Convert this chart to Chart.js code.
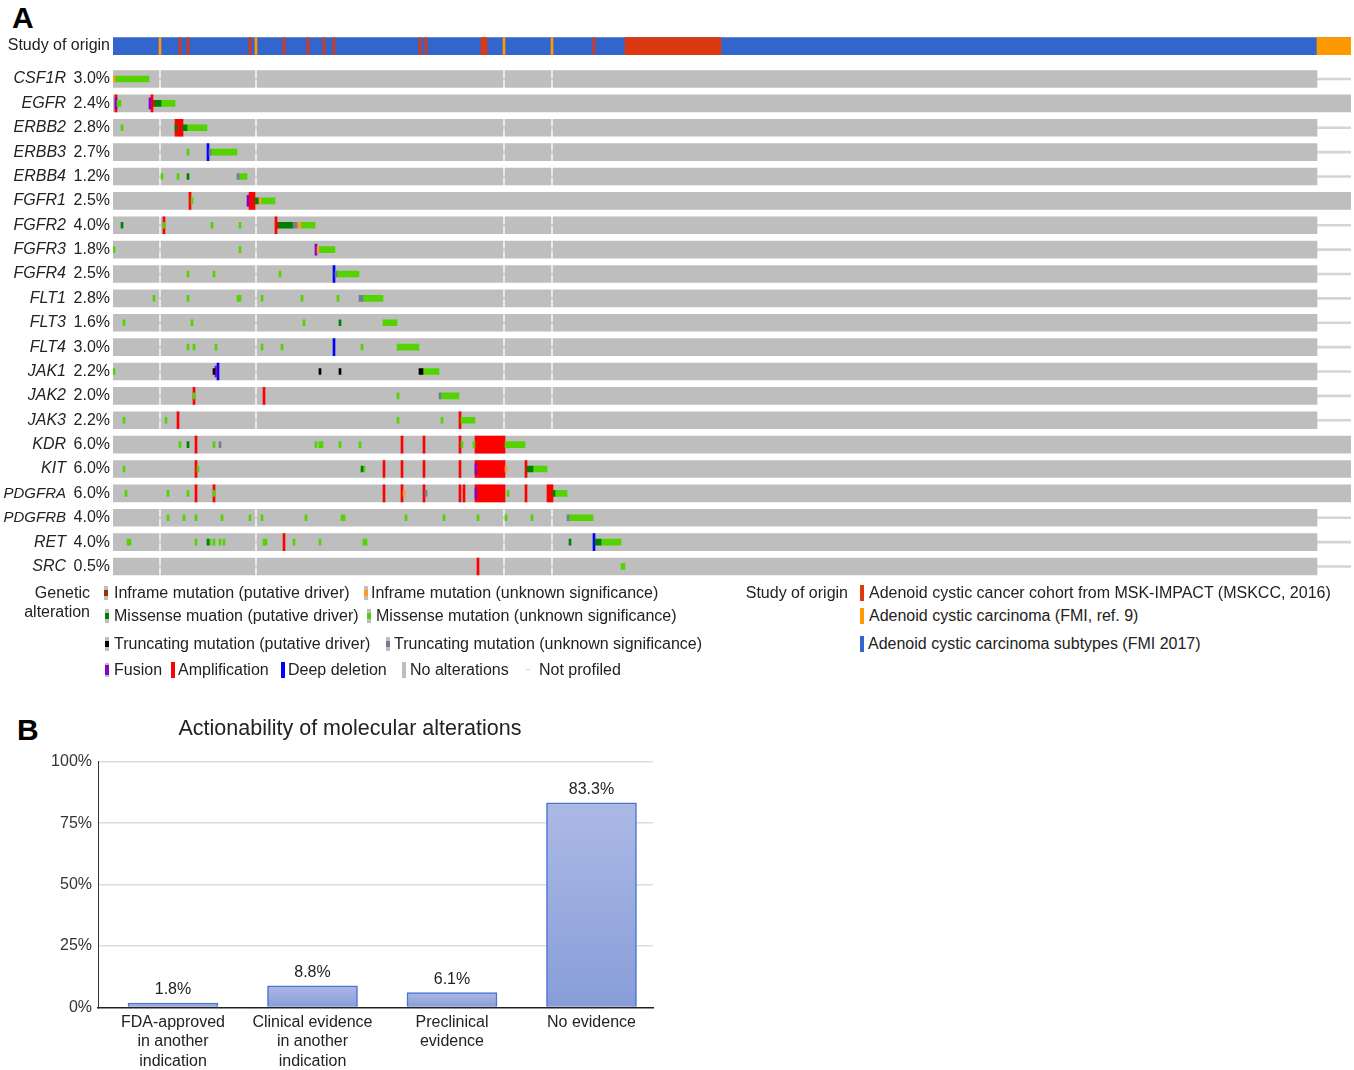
<!DOCTYPE html>
<html>
<head>
<meta charset="utf-8">
<script src="https://cdn.jsdelivr.net/npm/chart.js@4.4.1/dist/chart.umd.min.js"></script>
<style>
  body { margin: 0; width: 1354px; height: 1070px; overflow: hidden; position: relative; background: #fff;
         font-family: "Liberation Sans", Arial, sans-serif; color: #222; }
  canvas { position: absolute; left: 0; }
  .panel { position: absolute; font-weight: bold; font-size: 30px; line-height: 30px; color: #000; }
  .lg { position: absolute; font-size: 16px; line-height: 18px; white-space: nowrap; }
  .gl { position: absolute; width: 4px; height: 14px; background: #bebebe; }
  .gl i { position: absolute; left: 0; top: 4px; width: 4px; height: 6px; }
  .st { position: absolute; width: 4px; height: 16px; }
</style>
</head>
<body>
<div class="panel" style="left:12px; top:3px;">A</div>
<canvas id="onco" width="1354" height="600" style="top:0"></canvas>
<div class="lg" style="left:0; width:110px; text-align:right; top:36px;">Study of origin</div>

<!-- legend, panel A -->
<div class="lg" style="left:0; width:90px; text-align:right; top:584px;">Genetic</div>
<div class="lg" style="left:0; width:90px; text-align:right; top:603px;">alteration</div>

<div class="gl" style="left:104px; top:586px;"><i style="background:#993404"></i></div>
<div class="lg" style="left:114px; top:584px;">Inframe mutation (putative driver)</div>
<div class="gl" style="left:364px; top:586px;"><i style="background:#fe9929"></i></div>
<div class="lg" style="left:371px; top:584px;">Inframe mutation (unknown significance)</div>

<div class="gl" style="left:105px; top:609px;"><i style="background:#008000"></i></div>
<div class="lg" style="left:114px; top:607px;">Missense muation (putative driver)</div>
<div class="gl" style="left:367px; top:609px;"><i style="background:#53d400"></i></div>
<div class="lg" style="left:376px; top:607px;">Missense mutation (unknown significance)</div>

<div class="gl" style="left:105px; top:637px;"><i style="background:#000"></i></div>
<div class="lg" style="left:114px; top:635px;">Truncating mutation (putative driver)</div>
<div class="gl" style="left:386px; top:637px;"><i style="background:#708090"></i></div>
<div class="lg" style="left:394px; top:635px;">Truncating mutation (unknown significance)</div>

<div class="gl" style="left:105px; top:663px;"><i style="background:#8b00c9; top:2px; height:10px"></i></div>
<div class="lg" style="left:114px; top:661px;">Fusion</div>
<div class="gl" style="left:171px; top:662px; height:16px; background:#ff0000"></div>
<div class="lg" style="left:178px; top:661px;">Amplification</div>
<div class="gl" style="left:281px; top:662px; height:16px; background:#0000ff"></div>
<div class="lg" style="left:288px; top:661px;">Deep deletion</div>
<div class="gl" style="left:402px; top:662px; height:16px;"></div>
<div class="lg" style="left:410px; top:661px;">No alterations</div>
<div class="gl" style="left:526px; top:669px; height:1px; background:#d0d0d0"></div>
<div class="lg" style="left:539px; top:661px;">Not profiled</div>

<div class="lg" style="left:700px; width:148px; text-align:right; top:584px;">Study of origin</div>
<div class="st" style="left:860px; top:585px; background:#dc3912"></div>
<div class="lg" style="left:869px; top:584px;">Adenoid cystic cancer cohort from MSK-IMPACT (MSKCC, 2016)</div>
<div class="st" style="left:860px; top:608px; background:#ff9900"></div>
<div class="lg" style="left:869px; top:607px;">Adenoid cystic carcinoma (FMI, ref. 9)</div>
<div class="st" style="left:860px; top:636px; background:#3366cc"></div>
<div class="lg" style="left:868px; top:635px;">Adenoid cystic carcinoma subtypes (FMI 2017)</div>

<div class="panel" style="left:17px; top:715px;">B</div>
<canvas id="action" width="700" height="376" style="top:700px"></canvas>

<script>
// ---------- panel A: oncoprint data (x in sample columns) ----------
const sampleCount = 619;
const panelEnd = 602;            // samples from here on were not profiled for most genes
const genes = ['CSF1R', 'EGFR', 'ERBB2', 'ERBB3', 'ERBB4', 'FGFR1', 'FGFR2', 'FGFR3', 'FGFR4', 'FLT1', 'FLT3',
               'FLT4', 'JAK1', 'JAK2', 'JAK3', 'KDR', 'KIT', 'PDGFRA', 'PDGFRB', 'RET', 'SRC'];
const alteredPct = ['3.0%', '2.4%', '2.8%', '2.7%', '1.2%', '2.5%', '4.0%', '1.8%', '2.5%', '2.8%', '1.6%',
                    '3.0%', '2.2%', '2.0%', '2.2%', '6.0%', '6.0%', '6.0%', '4.0%', '4.0%', '0.5%'];
const fullyProfiled = ['EGFR', 'FGFR1', 'KDR', 'KIT', 'PDGFRA'];
const notProfiledSamples = [23, 71, 195, 219];

// study of origin track (rest of the samples: FMI 2017)
const studyMskcc = [[33, 34], [37, 38], [68, 69], [85, 86], [97, 98], [105, 106], [110, 111], [153, 154],
                    [156, 157], [184, 187], [240, 241], [256, 304]];
const studyFmiRef9 = [[23, 24], [71, 72], [195, 196], [219, 220], [602, 619]];

// alterations: [gene, first sample, end sample]
const inframeDriver = [['EGFR', 20, 21], ['FGFR2', 82, 83]];
const inframeUnknown = [['CSF1R', 0, 1], ['FGFR1', 73, 74], ['FGFR2', 92, 94], ['FGFR3', 102, 103],
                        ['KIT', 196, 197], ['PDGFRA', 145, 146]];
const missenseDriver = [['EGFR', 21, 24], ['ERBB2', 31, 32], ['ERBB2', 35, 37], ['ERBB4', 37, 38], ['FGFR1', 71, 73],
                        ['FGFR2', 4, 5], ['FGFR2', 83, 90], ['FLT3', 113, 114], ['KDR', 37, 38], ['KIT', 124, 125],
                        ['KIT', 207, 210], ['PDGFRA', 220, 221], ['RET', 47, 48], ['RET', 228, 229], ['RET', 241, 244]];
const missenseUnknown = [
  ['CSF1R', 1, 18],
  ['EGFR', 2, 4], ['EGFR', 24, 31],
  ['ERBB2', 4, 5], ['ERBB2', 37, 47],
  ['ERBB3', 37, 38], ['ERBB3', 49, 62],
  ['ERBB4', 24, 25], ['ERBB4', 32, 33], ['ERBB4', 63, 67],
  ['FGFR1', 39, 40], ['FGFR1', 74, 81],
  ['FGFR2', 25, 26], ['FGFR2', 49, 50], ['FGFR2', 63, 64], ['FGFR2', 94, 101],
  ['FGFR3', 0, 1], ['FGFR3', 63, 64], ['FGFR3', 103, 111],
  ['FGFR4', 37, 38], ['FGFR4', 50, 51], ['FGFR4', 83, 84], ['FGFR4', 112, 123],
  ['FLT1', 20, 21], ['FLT1', 37, 38], ['FLT1', 62, 63], ['FLT1', 63, 64], ['FLT1', 74, 75], ['FLT1', 94, 95],
  ['FLT1', 112, 113], ['FLT1', 125, 135],
  ['FLT3', 5, 6], ['FLT3', 39, 40], ['FLT3', 95, 96], ['FLT3', 135, 142],
  ['FLT4', 37, 38], ['FLT4', 40, 41], ['FLT4', 51, 52], ['FLT4', 74, 75], ['FLT4', 84, 85], ['FLT4', 124, 125],
  ['FLT4', 142, 153],
  ['JAK1', 0, 1], ['JAK1', 155, 163],
  ['JAK2', 40, 41], ['JAK2', 142, 143], ['JAK2', 164, 173],
  ['JAK3', 5, 6], ['JAK3', 26, 27], ['JAK3', 142, 143], ['JAK3', 164, 165], ['JAK3', 174, 181],
  ['KDR', 33, 34], ['KDR', 50, 51], ['KDR', 101, 102], ['KDR', 103, 105], ['KDR', 113, 114], ['KDR', 123, 124],
  ['KDR', 174, 175], ['KDR', 180, 181], ['KDR', 196, 206],
  ['KIT', 5, 6], ['KIT', 42, 43], ['KIT', 125, 126], ['KIT', 210, 217],
  ['PDGFRA', 6, 7], ['PDGFRA', 27, 28], ['PDGFRA', 37, 38], ['PDGFRA', 50, 51], ['PDGFRA', 197, 198],
  ['PDGFRA', 221, 227],
  ['PDGFRB', 27, 28], ['PDGFRB', 35, 36], ['PDGFRB', 41, 42], ['PDGFRB', 54, 55], ['PDGFRB', 68, 69],
  ['PDGFRB', 74, 75], ['PDGFRB', 96, 97], ['PDGFRB', 114, 116], ['PDGFRB', 146, 147], ['PDGFRB', 165, 166],
  ['PDGFRB', 182, 183], ['PDGFRB', 196, 197], ['PDGFRB', 209, 210], ['PDGFRB', 228, 240],
  ['RET', 7, 9], ['RET', 41, 42], ['RET', 48, 49], ['RET', 50, 51], ['RET', 53, 54], ['RET', 55, 56], ['RET', 75, 77],
  ['RET', 90, 91], ['RET', 103, 104], ['RET', 125, 127], ['RET', 244, 254],
  ['SRC', 254, 256]
];
const truncDriver = [['JAK1', 50, 51], ['JAK1', 103, 104], ['JAK1', 113, 114], ['JAK1', 153, 155]];
const truncUnknown = [['ERBB3', 48, 49], ['ERBB4', 62, 63], ['FGFR2', 90, 92], ['FGFR4', 111, 112], ['FLT1', 123, 125],
                      ['JAK2', 163, 164], ['KDR', 53, 54], ['PDGFRA', 156, 157], ['PDGFRB', 227, 228]];
const fusion = [['EGFR', 1, 2], ['EGFR', 18, 19], ['FGFR1', 67, 68], ['FGFR3', 101, 102], ['JAK1', 51, 52],
                ['KIT', 181, 182], ['PDGFRA', 181, 182]];
const amplification = [['EGFR', 1, 2], ['EGFR', 19, 20], ['ERBB2', 31, 35], ['FGFR1', 38, 39], ['FGFR1', 68, 71],
  ['FGFR2', 25, 26], ['FGFR2', 81, 82], ['JAK2', 40, 41], ['JAK2', 75, 76], ['JAK3', 32, 33], ['JAK3', 173, 174],
  ['KDR', 41, 42], ['KDR', 144, 145], ['KDR', 155, 156], ['KDR', 173, 174], ['KDR', 181, 196],
  ['KIT', 41, 42], ['KIT', 135, 136], ['KIT', 144, 145], ['KIT', 155, 156], ['KIT', 173, 174], ['KIT', 181, 196],
  ['KIT', 206, 207],
  ['PDGFRA', 41, 42], ['PDGFRA', 50, 51], ['PDGFRA', 135, 136], ['PDGFRA', 144, 145], ['PDGFRA', 155, 156],
  ['PDGFRA', 173, 174], ['PDGFRA', 175, 176], ['PDGFRA', 181, 196], ['PDGFRA', 206, 207], ['PDGFRA', 217, 220],
  ['RET', 85, 86], ['SRC', 182, 183]];
const deepDeletion = [['ERBB3', 47, 48], ['FGFR4', 110, 111], ['FLT4', 110, 111], ['JAK1', 52, 53], ['RET', 240, 241]];

// ---------- panel B data ----------
const actionCategories = [['FDA-approved', 'in another', 'indication'], ['Clinical evidence', 'in another', 'indication'],
                          ['Preclinical', 'evidence'], ['No evidence']];
const actionValues = [1.8, 8.8, 6.1, 83.3];
const actionTicks = [0, 25, 50, 75, 100];

const FONT = '"Liberation Sans", Arial, sans-serif';
Chart.defaults.font.family = FONT;

// ---------- build oncoprint ----------
const studyRow = -1.35;
const geneTicks = genes.map((g, i) => i);

function profiledSegments(gene) {
  if (fullyProfiled.includes(gene)) return [[0, sampleCount]];
  const segs = [];
  let s = 0;
  notProfiledSamples.forEach(n => { segs.push([s, n]); s = n + 1; });
  segs.push([s, panelEnd]);
  return segs;
}

function marks(list, color, thickness) {
  return {
    data: list.map(([g, s, e]) => ({ x: [s, e], y: genes.indexOf(g) })),
    backgroundColor: color,
    barThickness: thickness
  };
}

const grayData = [];
genes.forEach((g, i) => profiledSegments(g).forEach(([s, e]) => grayData.push({ x: [s, e], y: i })));
const npData = genes.filter(g => !fullyProfiled.includes(g)).map(g => ({ x: [0, sampleCount], y: genes.indexOf(g) }));

// first dataset is drawn on top
const oncoSets = [
  marks(truncDriver, '#000000', 6),
  marks(truncUnknown, '#708090', 6),
  marks(inframeDriver, '#993404', 6),
  marks(inframeUnknown, '#fe9929', 6),
  marks(missenseDriver, '#008000', 6),
  marks(missenseUnknown, '#53d400', 6),
  marks(fusion, '#8b00c9', 11),
  marks(deepDeletion, '#0000ff', 17),
  marks(amplification, '#ff0000', 17),
  { data: grayData, backgroundColor: '#bebebe', barThickness: 17 },
  { data: npData, backgroundColor: '#d4d4d4', barThickness: 2 },
  { data: studyMskcc.map(([s, e]) => ({ x: [s, e], y: studyRow })), backgroundColor: '#dc3912', barThickness: 17 },
  { data: studyFmiRef9.map(([s, e]) => ({ x: [s, e], y: studyRow })), backgroundColor: '#ff9900', barThickness: 17 },
  { data: [{ x: [0, sampleCount], y: studyRow }], backgroundColor: '#3366cc', barThickness: 17 }
];
oncoSets.forEach(d => { d.grouped = false; d.borderWidth = 0; });

function rowAxis(extra) {
  return Object.assign({
    type: 'linear', reverse: true, min: -2.2, max: 20.6, position: 'left', offset: false,
    grid: { display: false, drawTicks: false }, border: { display: false },
    afterBuildTicks: s => { s.ticks = geneTicks.map(v => ({ value: v })); }
  }, extra);
}

new Chart(document.getElementById('onco'), {
  type: 'bar',
  data: { datasets: oncoSets },
  options: {
    indexAxis: 'y',
    responsive: false,
    animation: false,
    events: [],
    layout: { padding: { top: 25.4, bottom: 18.85, left: 0, right: 3 } },
    plugins: { legend: { display: false }, tooltip: { enabled: false } },
    scales: {
      x: { type: 'linear', min: 0, max: sampleCount, display: false, offset: false },
      y: rowAxis({
        weight: 0,
        afterFit: s => { s.width = 46; },
        ticks: { autoSkip: false, padding: 3, color: '#222', font: { size: 16 },
                 callback: v => alteredPct[v] }
      }),
      yg: rowAxis({
        weight: 1,
        afterFit: s => { s.width = 67; },
        ticks: { autoSkip: false, padding: 1, color: '#222',
                 // the six-letter names are squeezed a little, as in the original
                 font: c => ({ size: (genes[c.tick && c.tick.value] || '').length > 5 ? 15 : 16, style: 'italic' }),
                 callback: v => genes[v] || '' }
      })
    }
  }
});

// ---------- panel B ----------
const valueLabels = {
  id: 'valueLabels',
  afterDatasetsDraw(chart) {
    const ctx = chart.ctx;
    ctx.save();
    ctx.font = '16px ' + FONT;
    ctx.fillStyle = '#222';
    ctx.textAlign = 'center';
    ctx.textBaseline = 'middle';
    chart.getDatasetMeta(0).data.forEach((bar, i) => {
      ctx.fillText(actionValues[i].toFixed(1) + '%', bar.x, bar.y - 13);
    });
    ctx.restore();
  }
};

function barFill(c) {
  const chart = c.chart;
  if (!chart.chartArea || c.type !== 'data' || !c.parsed) return '#9aaedd';
  const y = chart.scales.y;
  const g = chart.ctx.createLinearGradient(0, y.getPixelForValue(c.parsed.y), 0, y.getPixelForValue(0));
  g.addColorStop(0, '#abb9e5');
  g.addColorStop(1, '#889dd8');
  return g;
}

new Chart(document.getElementById('action'), {
  type: 'bar',
  data: {
    datasets: [{
      data: actionValues.map((v, i) => ({ x: i, y: v })),
      barThickness: 90,
      backgroundColor: barFill,
      borderColor: '#4a74d4',
      borderWidth: 1.5
    }]
  },
  options: {
    responsive: false,
    animation: false,
    events: [],
    layout: { padding: 0 },
    plugins: {
      legend: { display: false },
      tooltip: { enabled: false },
      title: { display: true, text: 'Actionability of molecular alterations', color: '#222',
               font: { size: 21.5, weight: 'normal' }, padding: { top: 16, bottom: 20 } }
    },
    scales: {
      x: {
        type: 'linear', min: -0.5376, max: 3.441, offset: false,
        grid: { display: false, drawTicks: false },
        border: { color: '#222', width: 1.5 },
        afterBuildTicks: s => { s.ticks = actionValues.map((v, i) => ({ value: i })); },
        ticks: { autoSkip: false, maxRotation: 0, padding: 5, color: '#222', font: { size: 16, lineHeight: 1.22 },
                 callback: v => actionCategories[v] }
      },
      y: {
        min: 0, max: 100,
        afterBuildTicks: s => { s.ticks = actionTicks.map(v => ({ value: v })); },
        afterFit: s => { s.width = 98; },
        grid: { color: c => c.tick && c.tick.value === 0 ? 'rgba(0,0,0,0)' : '#dcdcdc', lineWidth: 1.5, drawTicks: false },
        border: { color: '#333', width: 1 },
        ticks: { padding: 6, color: '#333', font: { size: 16 }, callback: v => v + '%' }
      },
      // empty right-hand spacer so the title centres on the whole panel
      spacer: {
        type: 'linear', position: 'right', min: 0, max: 1,
        grid: { display: false, drawTicks: false }, border: { display: false }, ticks: { display: false },
        afterFit: s => { s.width = 47; }
      }
    }
  },
  plugins: [valueLabels]
});
</script>
</body>
</html>
